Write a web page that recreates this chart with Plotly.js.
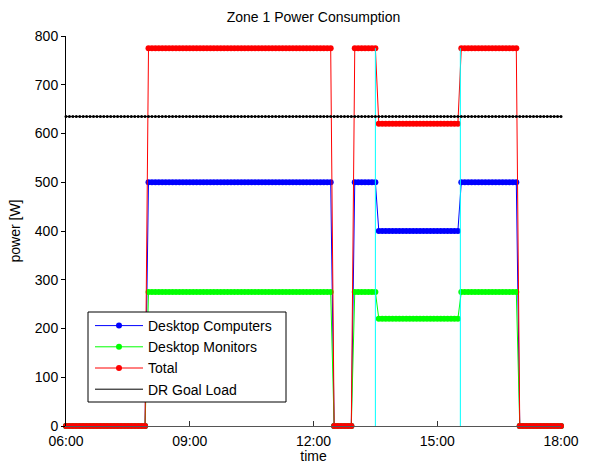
<!DOCTYPE html>
<html>
<head>
<meta charset="utf-8">
<script src="https://cdn.plot.ly/plotly-3.0.1.min.js"></script>
<style>html,body{margin:0;padding:0;background:#fff;}#chart{width:589px;height:464px;}</style>
</head>
<body>
<div id="chart"></div>
<script>
// Sampling grid: 06:00 to 18:00 every 5 minutes (145 samples)
const startHour = 6;
const stepMinutes = 5;

// Power [W], one row per hour (12 samples of 5 min), last row = 18:00
const computers = [
  0,0,0,0,0,0,0,0,0,0,0,0,                              // 06
  0,0,0,0,0,0,0,0,0,0,0,0,                              // 07
  500,500,500,500,500,500,500,500,500,500,500,500,      // 08
  500,500,500,500,500,500,500,500,500,500,500,500,      // 09
  500,500,500,500,500,500,500,500,500,500,500,500,      // 10
  500,500,500,500,500,500,500,500,500,500,500,500,      // 11
  500,500,500,500,500,500,0,0,0,0,0,0,                  // 12
  500,500,500,500,500,500,500,400,400,400,400,400,      // 13
  400,400,400,400,400,400,400,400,400,400,400,400,      // 14
  400,400,400,400,400,400,400,500,500,500,500,500,      // 15
  500,500,500,500,500,500,500,500,500,500,500,500,      // 16
  0,0,0,0,0,0,0,0,0,0,0,0,                              // 17
  0                                                     // 18
];
const monitors = [
  0,0,0,0,0,0,0,0,0,0,0,0,
  0,0,0,0,0,0,0,0,0,0,0,0,
  275,275,275,275,275,275,275,275,275,275,275,275,
  275,275,275,275,275,275,275,275,275,275,275,275,
  275,275,275,275,275,275,275,275,275,275,275,275,
  275,275,275,275,275,275,275,275,275,275,275,275,
  275,275,275,275,275,275,0,0,0,0,0,0,
  275,275,275,275,275,275,275,220,220,220,220,220,
  220,220,220,220,220,220,220,220,220,220,220,220,
  220,220,220,220,220,220,220,275,275,275,275,275,
  275,275,275,275,275,275,275,275,275,275,275,275,
  0,0,0,0,0,0,0,0,0,0,0,0,
  0
];
const total = [
  0,0,0,0,0,0,0,0,0,0,0,0,
  0,0,0,0,0,0,0,0,0,0,0,0,
  775,775,775,775,775,775,775,775,775,775,775,775,
  775,775,775,775,775,775,775,775,775,775,775,775,
  775,775,775,775,775,775,775,775,775,775,775,775,
  775,775,775,775,775,775,775,775,775,775,775,775,
  775,775,775,775,775,775,0,0,0,0,0,0,
  775,775,775,775,775,775,775,620,620,620,620,620,
  620,620,620,620,620,620,620,620,620,620,620,620,
  620,620,620,620,620,620,620,775,775,775,775,775,
  775,775,775,775,775,775,775,775,775,775,775,775,
  0,0,0,0,0,0,0,0,0,0,0,0,
  0
];
const goal = [
  635,635,635,635,635,635,635,635,635,635,635,635,
  635,635,635,635,635,635,635,635,635,635,635,635,
  635,635,635,635,635,635,635,635,635,635,635,635,
  635,635,635,635,635,635,635,635,635,635,635,635,
  635,635,635,635,635,635,635,635,635,635,635,635,
  635,635,635,635,635,635,635,635,635,635,635,635,
  635,635,635,635,635,635,635,635,635,635,635,635,
  635,635,635,635,635,635,635,635,635,635,635,635,
  635,635,635,635,635,635,635,635,635,635,635,635,
  635,635,635,635,635,635,635,635,635,635,635,635,
  635,635,635,635,635,635,635,635,635,635,635,635,
  635,635,635,635,635,635,635,635,635,635,635,635,
  635
];
// DR event window markers (hours) and their vertical extent (W)
const drEventStart = [13.5, 13.5];
const drEventEnd = [15.56, 15.56];
const drLineLevels = [0, 775];

const seriesNames = ['Desktop Computers', 'Desktop Monitors', 'Total', 'DR Goal Load'];
const tickVals = [6, 9, 12, 15, 18];
const tickLabels = ['06:00', '09:00', '12:00', '15:00', '18:00'];

const times = computers.map((_, i) => startHour + i * stepMinutes / 60);

const dotLine = (name, y, color, size) => ({
  type: 'scatter', mode: 'lines+markers', name: name, x: times, y: y,
  line: {color: color, width: 1}, marker: {color: color, size: size},
  cliponaxis: false
});

const traces = [
  dotLine(seriesNames[0], computers, '#0000ff', 6),
  dotLine(seriesNames[1], monitors, '#00ff00', 6),
  dotLine(seriesNames[2], total, '#ff0000', 6),
  {type: 'scatter', mode: 'lines', x: drEventStart, y: drLineLevels, showlegend: false,
   line: {color: '#00ffff', width: 1}},
  {type: 'scatter', mode: 'lines', x: drEventEnd, y: drLineLevels, showlegend: false,
   line: {color: '#00ffff', width: 1}},
  {type: 'scatter', mode: 'markers', x: times, y: goal, showlegend: false,
   marker: {color: '#000000', size: 3}, cliponaxis: false},
  {type: 'scatter', mode: 'lines', name: seriesNames[3], x: times, y: goal,
   line: {color: '#000000', width: 1}}
];

const font = {family: '"Liberation Sans", Arial, sans-serif', size: 14, color: '#000'};

// plot area in pixels: x 66..561, y 36..426
const px = (x) => (x - 66) / 495;
const py = (y) => (426 - y) / 390;

const layout = {
  width: 589, height: 464,
  margin: {l: 66, r: 28, t: 36, b: 38},
  paper_bgcolor: '#fff', plot_bgcolor: '#fff',
  font: font,
  showlegend: true,
  title: {text: 'Zone 1 Power Consumption', font: {family: font.family, size: 14, color: '#000'},
          x: 0.5, xref: 'paper', y: 1 - 17/464, yref: 'container', yanchor: 'middle'},
  xaxis: {
    range: [6, 18], tickvals: tickVals, ticktext: tickLabels,
    showline: true, linecolor: '#555', linewidth: 1,
    ticks: 'inside', ticklen: 5, tickcolor: '#333',
    showgrid: false, zeroline: false, mirror: false,
    ticklabelstandoff: 2,
    title: {text: 'time', font: font, standoff: 2},
    tickfont: font
  },
  yaxis: {
    range: [0, 800], dtick: 100, tick0: 0,
    showline: true, linecolor: '#000', linewidth: 1,
    ticks: 'outside', ticklen: 4, tickcolor: '#000',
    showgrid: false, zeroline: false, mirror: false,
    title: {text: 'power [W]', font: font, standoff: 10},
    tickfont: font
  },
  shapes: [{
    type: 'rect', xref: 'paper', yref: 'paper', layer: 'above',
    x0: px(88), x1: px(286), y0: py(402), y1: py(312),
    fillcolor: '#ffffff', line: {color: '#000', width: 1}
  }],
  legend: {
    x: px(90), y: py(310), xanchor: 'left', yanchor: 'top',
    bgcolor: 'rgba(0,0,0,0)', borderwidth: 0,
    font: {family: font.family, size: 14, color: '#000'},
    itemwidth: 48, tracegroupgap: 0
  }
};

Plotly.newPlot('chart', traces, layout, {displayModeBar: false, staticPlot: true});
</script>
</body>
</html>
